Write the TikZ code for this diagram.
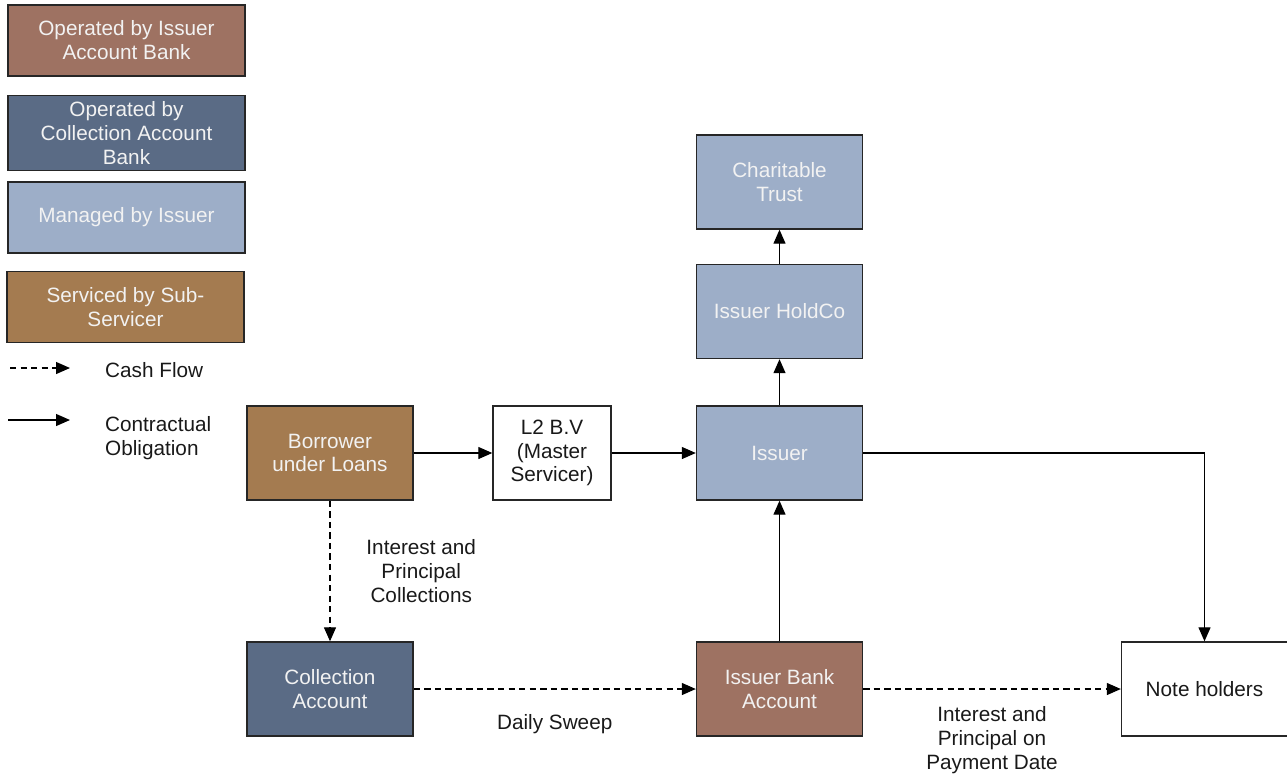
\documentclass[tikz,border=0pt]{standalone}
\usepackage{fontspec}
\setmainfont{Liberation Sans}
\usetikzlibrary{arrows.meta}
\definecolor{bankred}{HTML}{9E7262}
\definecolor{collblue}{HTML}{5A6B85}
\definecolor{issuerblue}{HTML}{9DAEC8}
\definecolor{servbrown}{HTML}{A47B50}

\begin{document}
\begin{tikzpicture}[x=0.02cm, y=-0.02cm,
	every node/.style={font=\fontsize{11.8}{13.6}\selectfont, text=black!90, align=center},
	>={Triangle[length=2.8mm, width=2.4mm]},
	box/.style={draw=black!85, line width=0.8pt, minimum width=3.32cm, minimum height=1.88cm},
	key/.style={draw=black!85, line width=0.8pt, minimum width=4.74cm, minimum height=1.42cm},
	light/.style={text=white!95!black},
	cash/.style={->, line width=0.7pt, dash pattern=on 3.6pt off 2.4pt},
	duty/.style={->, line width=0.7pt}]
	\useasboundingbox (0,0) rectangle (1287,782);
	% legend
	\node[key, fill=bankred, light] (keybank) at (126.5,40.5) {Operated by Issuer\\Account Bank};
	\node[key, fill=collblue, light] (keycoll) at (126.5,133) {Operated by\\Collection Account\\Bank};
	\node[key, fill=issuerblue, light] (keyissuer) at (126.5,217.5) {Managed by Issuer};
	\node[key, fill=servbrown, light] (keyserv) at (125.5,307) {Serviced by Sub-\\Servicer};
	\coordinate (cashA) at (10,368);
	\coordinate (cashB) at (70,368);
	\coordinate (dutyA) at (8,420);
	\coordinate (dutyB) at (70,420);
	\draw[cash] (cashA) -- (cashB);
	\draw[duty] (dutyA) -- (dutyB);
	\node[anchor=west] (cashtxt) at (99,370) {Cash Flow};
	\node[anchor=north west, align=left] (dutytxt) at (99,410) {Contractual\\Obligation};
	% parties
	\node[box, fill=servbrown, light] (borrower) at (330,453) {Borrower\\under Loans};
	\node[box, minimum width=2.36cm, fill=white] (master) at (552,453) {L2 B.V\\(Master\\Servicer)};
	\node[box, fill=issuerblue, light] (issuer) at (779.5,453) {Issuer};
	\node[box, fill=issuerblue, light] (holdco) at (779.5,311.5) {Issuer HoldCo};
	\node[box, fill=issuerblue, light] (trust) at (779.5,182) {Charitable\\Trust};
	\node[box, fill=collblue, light] (collection) at (330,689) {Collection\\Account};
	\node[box, fill=bankred, light] (bankacc) at (779.5,689) {Issuer Bank\\Account};
	\node[box, fill=white] (notes) at (1204.5,689) {Note holders};
	% contractual obligations
	\draw[duty] (borrower) -- (master);
	\draw[duty] (master) -- (issuer);
	\draw[duty] (issuer) -- (holdco);
	\draw[duty] (holdco) -- (trust);
	\draw[duty] (bankacc) -- (issuer);
	\draw[duty] (issuer.east) -| (notes.north);
	% cash flows
	\draw[cash] (borrower) -- (collection) node[midway, right=0.6cm] {Interest and\\Principal\\Collections};
	\draw[cash] (collection) -- (bankacc) node[midway, below=0.37cm] {Daily Sweep};
	\draw[cash] (bankacc) -- (notes) node[midway, below=0.22cm] {Interest and\\Principal on\\Payment Date};
\end{tikzpicture}
\end{document}
